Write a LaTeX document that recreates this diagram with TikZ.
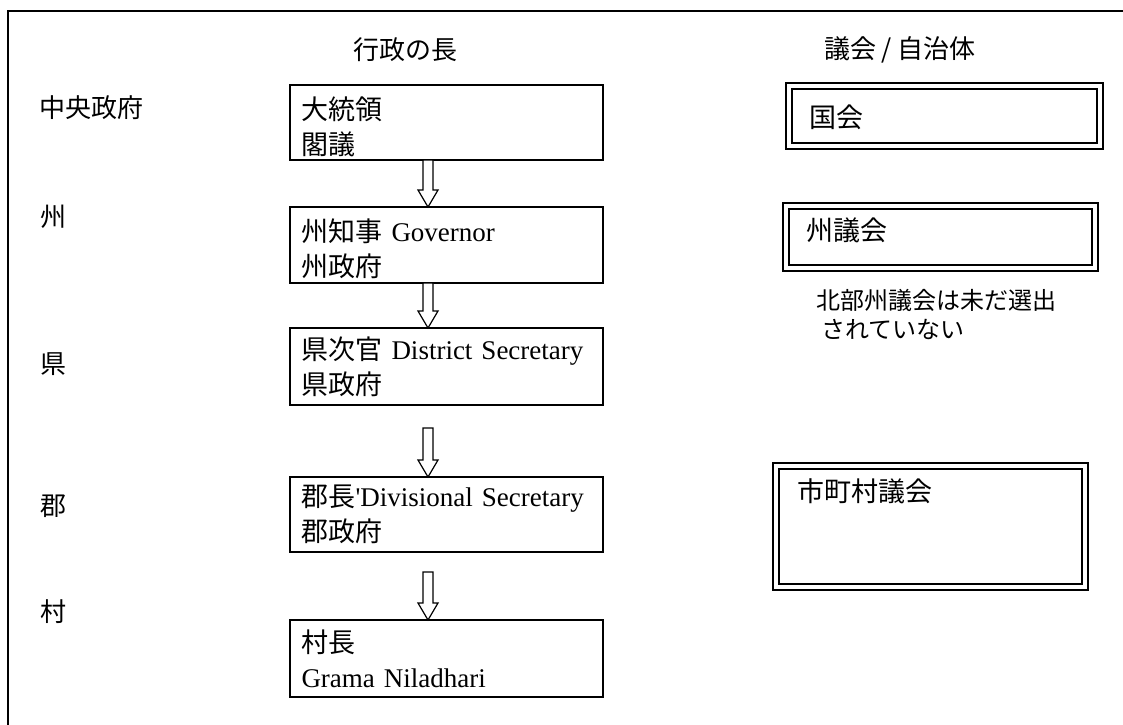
\documentclass[tikz,border=0pt]{standalone}
\usepackage{fontspec}
\setmainfont{Noto Sans CJK JP}
\newfontfamily\lat{Liberation Serif}
\usetikzlibrary{calc}
\newcommand\blockarrow[2]{%
  \draw[blockarr] let \p1=(#1), \p2=(#2) in
    (\x1-5pt,\y1) -- (\x1+5pt,\y1) -- (\x1+5pt,\y2+17pt) -- (\x1+10pt,\y2+17pt)
    -- (\x1,\y2) -- (\x1-10pt,\y2+17pt) -- (\x1-5pt,\y2+17pt) -- cycle;}
\newcommand\topstrut{\rule{0pt}{31pt}}
\begin{document}
\hyphenpenalty=10000
\exhyphenpenalty=10000
\begin{tikzpicture}[x=1pt,y=-1pt,
  lbox/.style={draw, line width=1.5pt, anchor=north west, outer sep=0pt,
    text width=290pt, inner xsep=11.5pt, inner ysep=0pt, align=left,
    font=\fontsize{27}{35}\selectfont},
  rbox/.style={draw, double, double distance=4pt, line width=1.7pt,
    anchor=north west, outer sep=0pt},
  rtext/.style={anchor=west, inner sep=0pt, font=\fontsize{27}{32}\selectfont},
  head/.style={inner sep=0pt, font=\fontsize{26}{30}\selectfont},
  lvl/.style={anchor=west, inner sep=0pt, font=\fontsize{26}{30}\selectfont},
  note/.style={anchor=north west, inner sep=0pt, align=left,
    font=\fontsize{24}{29}\selectfont},
  blockarr/.style={draw, fill=white, line width=1.2pt, line join=miter}]
\useasboundingbox (0,0) rectangle (1123,724);
\clip (0,0) rectangle (1123,724);
\draw[line width=2pt] (8,11) rectangle (1150,760);

% headers
\node[head] (h1) at (405,50) {行政の長};
\node[head] (h2) at (900,50) {議会 / 自治体};

% level labels
\node[lvl] (l1) at (39,108) {中央政府};
\node[lvl] (l2) at (40,217) {州};
\node[lvl] (l3) at (40,364) {県};
\node[lvl] (l4) at (40,506) {郡};
\node[lvl] (l5) at (40,612) {村};

% executive boxes
\node[lbox, minimum height=75pt] (b1) at (290,85) {\topstrut 大統領\\閣議};
\node[lbox, minimum height=76pt] (b2) at (290,207) {\topstrut 州知事 {\lat Governor}\\州政府};
\node[lbox, minimum height=77pt] (b3) at (290,328) {県次官 {\lat District Secretary}\\県政府};
\node[lbox, minimum height=75pt] (b4) at (290,477) {郡長{\lat\char"27 Divisional Secretary}\\郡政府};
\node[lbox, minimum height=77pt] (b5) at (290,620) {村長\\{\lat Grama Niladhari}};

% arrows
\coordinate (ax) at (428,0);
\coordinate (a3s) at (428,428);
\coordinate (a4s) at (428,572);
\blockarrow{b1.south -| ax}{b2.north -| ax}
\blockarrow{b2.south -| ax}{b3.north -| ax}
\blockarrow{a3s}{b4.north -| ax}
\blockarrow{a4s}{b5.north -| ax}

% assemblies
\node[rbox, minimum width=311pt, minimum height=60pt] (r1) at (789,86) {};
\node[rtext] (t1) at (809,117) {国会};
\node[rbox, minimum width=309pt, minimum height=62pt] (r2) at (786,206) {};
\node[rtext] (t2) at (806,230) {州議会};
\node[note] (n2) at (816,289) {北部州議会は未だ選出\\\hspace*{5pt}されていない};
\node[rbox, minimum width=309pt, minimum height=121pt] (r3) at (776,466) {};
\node[rtext] (t3) at (797,491) {市町村議会};
\end{tikzpicture}
\end{document}
